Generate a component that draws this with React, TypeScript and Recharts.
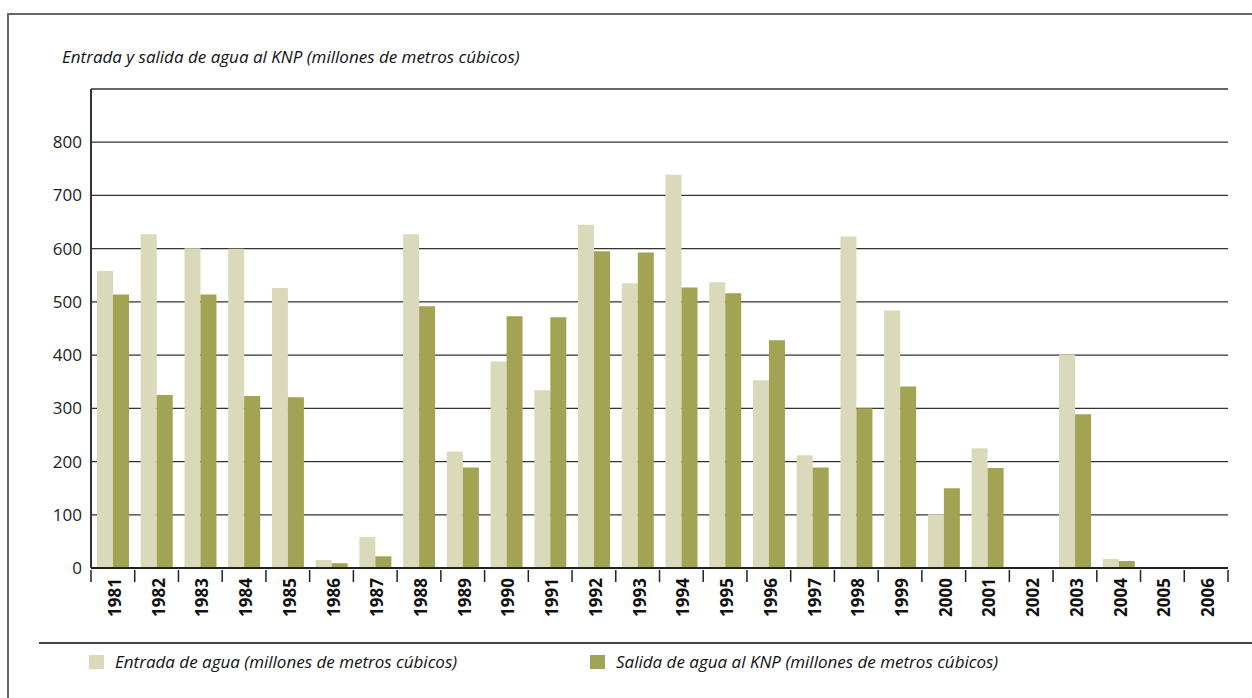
import React from "react";
import {
  BarChart,
  Bar,
  XAxis,
  YAxis,
  CartesianGrid,
  Legend,
} from "recharts";

const years = [
  "1981", "1982", "1983", "1984", "1985", "1986", "1987", "1988", "1989",
  "1990", "1991", "1992", "1993", "1994", "1995", "1996", "1997", "1998",
  "1999", "2000", "2001", "2002", "2003", "2004", "2005", "2006",
];

// millones de m3
const entrada = [
  558, 627, 601, 600, 526, 15, 58, 627, 219, 388, 334, 645, 535, 739, 537,
  353, 212, 623, 484, 101, 225, null, 401, 17, null, null,
];
const salida = [
  514, 325, 514, 323, 321, 9, 22, 492, 189, 473, 471, 595, 593, 527, 516,
  428, 189, 300, 341, 150, 188, null, 289, 13, null, null,
];

const yTicks = [0, 100, 200, 300, 400, 500, 600, 700, 800];

const ENTRADA_NAME = "Entrada de agua (millones de metros cúbicos)";
const SALIDA_NAME = "Salida de agua al KNP (millones de metros cúbicos)";
const LIGHT = "#dad9b9";
const DARK = "#a3a354";

const FONT = "'Open Sans', 'Noto Sans', sans-serif";

const data = years.map((year, i) => ({
  year,
  entrada: entrada[i],
  salida: salida[i],
}));

// plot area: x 91..1228
const PLOT_LEFT = 91;
const PLOT_RIGHT = 1228;
const BAND = (PLOT_RIGHT - PLOT_LEFT) / years.length;

function YearTick(props: any) {
  const { x, y, payload, index } = props;
  const half = BAND / 2;
  return (
    <g>
      <line x1={x - half} x2={x - half} y1={y + 2} y2={y + 14} stroke="#222" strokeWidth={1.5} />
      {index === years.length - 1 && (
        <line x1={x + half} x2={x + half} y1={y + 2} y2={y + 14} stroke="#222" strokeWidth={1.5} />
      )}
      <text
        transform={`translate(${x + 8},${y + 10}) rotate(-90)`}
        textAnchor="end"
        fontFamily={FONT}
        fontWeight={700}
        fontSize={17}
        fill="#111"
      >
        {payload.value}
      </text>
    </g>
  );
}

function LegendContent(props: any) {
  const { payload } = props;
  return (
    <div style={{ display: "flex" }}>
      {(payload || []).map((p: any) => (
        <div key={p.value} style={{ width: 501, display: "flex", alignItems: "center" }}>
          <span style={{ display: "inline-block", width: 15, height: 14, background: p.color }} />
          <span
            style={{
              marginLeft: 11,
              fontFamily: FONT,
              fontStyle: "italic",
              fontSize: 17,
              color: "#111",
            }}
          >
            {p.value}
          </span>
        </div>
      ))}
    </div>
  );
}

export default function App() {
  return (
    <div
      style={{
        position: "absolute",
        left: 0,
        top: 0,
        width: 1252,
        height: 698,
        background: "#fff",
        overflow: "hidden",
      }}
    >
      {/* outer frame */}
      <div
        style={{
          position: "absolute",
          left: 7,
          top: 13,
          width: 1260,
          height: 700,
          borderLeft: "2px solid #666",
          borderTop: "2px solid #666",
        }}
      />
      {/* title */}
      <div
        style={{
          position: "absolute",
          left: 62,
          top: 45,
          fontFamily: FONT,
          fontStyle: "italic",
          fontSize: 17,
          color: "#111",
          whiteSpace: "nowrap",
        }}
      >
        Entrada y salida de agua al KNP (millones de metros cúbicos)
      </div>
      {/* separator above legend */}
      <div
        style={{
          position: "absolute",
          left: 39,
          top: 642,
          width: 1213,
          height: 0,
          borderTop: "2px solid #444",
        }}
      />
      <div style={{ position: "absolute", left: 0, top: 0 }}>
        <BarChart
          width={1252}
          height={698}
          data={data}
          margin={{ top: 89, right: 1252 - PLOT_RIGHT, left: 0, bottom: 70 }}
          barGap={0}
          barSize={16}
        >
          <CartesianGrid vertical={false} stroke="#333" strokeWidth={1.3} />
          <XAxis
            dataKey="year"
            interval={0}
            height={60}
            tickSize={0}
            tickMargin={0}
            axisLine={{ stroke: "#222", strokeWidth: 2 }}
            tickLine={false}
            tick={<YearTick />}
          />
          <XAxis
            xAxisId="top"
            dataKey="year"
            orientation="top"
            height={0}
            tick={false}
            tickLine={false}
            axisLine={{ stroke: "#333", strokeWidth: 2 }}
          />
          <YAxis
            width={PLOT_LEFT}
            domain={[0, 900]}
            ticks={yTicks}
            allowDataOverflow
            tickLine={false}
            tickMargin={3}
            axisLine={{ stroke: "#333", strokeWidth: 2 }}
            tick={{ fontFamily: FONT, fontSize: 17, fill: "#222" }}
          />
          <YAxis
            yAxisId="right"
            orientation="right"
            width={0}
            domain={[0, 900]}
            tick={false}
            tickLine={false}
            axisLine={{ stroke: "#111", strokeWidth: 2 }}
          />
          <Legend
            layout="horizontal"
            verticalAlign="middle"
            align="center"
            wrapperStyle={{ top: 650, left: 89, width: 1100 }}
            content={<LegendContent />}
          />
          <Bar dataKey="entrada" name={ENTRADA_NAME} fill={LIGHT} isAnimationActive={false} />
          <Bar dataKey="salida" name={SALIDA_NAME} fill={DARK} isAnimationActive={false} />
        </BarChart>
      </div>
    </div>
  );
}
